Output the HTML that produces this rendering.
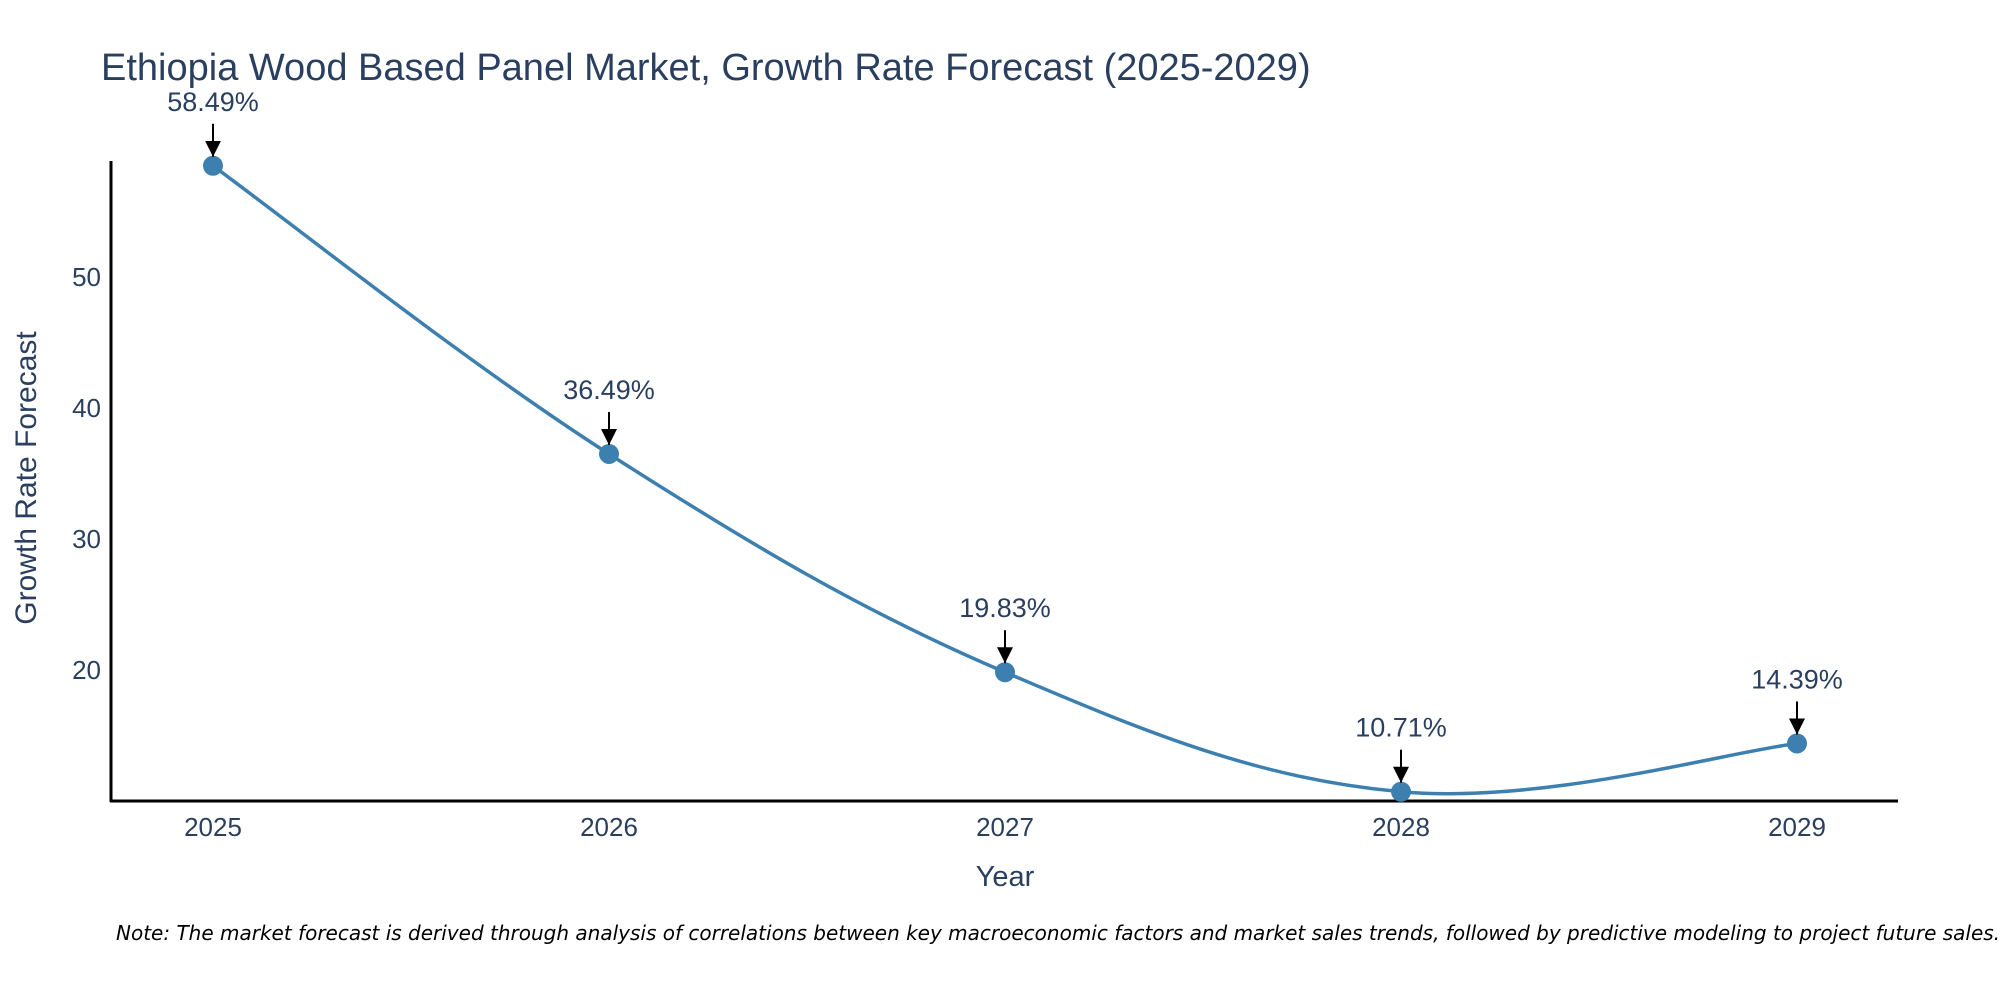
<!DOCTYPE html>
<html><head><meta charset="utf-8"><style>
body{margin:0;background:#fff;width:2000px;height:1000px;overflow:hidden}
svg text{font-family:"Liberation Sans",sans-serif;fill:#2a3f5f}
</style></head><body>
<svg id="chart" width="2000" height="1000" xmlns="http://www.w3.org/2000/svg">
<defs><marker id="ah2" markerWidth="16" markerHeight="16" refX="8" refY="16" orient="0" markerUnits="userSpaceOnUse" viewBox="0 0 16 16"><path d="M0,0 L16,0 L8,16 z" fill="#000"/></marker></defs>
<text x="101" y="80" font-size="38">Ethiopia Wood Based Panel Market, Growth Rate Forecast (2025-2029)</text>
<line x1="111" y1="161" x2="111" y2="802" stroke="#000" stroke-width="3"/>
<line x1="110" y1="801" x2="1898" y2="801" stroke="#000" stroke-width="3"/>
<g id="yticks"></g><g id="xticks"></g>
<text transform="translate(36,478) rotate(-90)" text-anchor="middle" font-size="30">Growth Rate Forecast</text>
<text x="1005" y="886" text-anchor="middle" font-size="29">Year</text>
<path id="line" fill="none" stroke="#3d80b0" stroke-width="3.5"/>
<g id="pts"></g><g id="ann"></g>
<text x="116" y="940" font-size="20" font-style="italic" style="font-family:'DejaVu Sans',sans-serif;fill:#000">Note: The market forecast is derived through analysis of correlations between key macroeconomic factors and market sales trends, followed by predictive modeling to project future sales.</text>
</svg>
<script>
const years=[2025,2026,2027,2028,2029];
const values=[58.49,36.49,19.83,10.71,14.39];
const labels=["58.49%","36.49%","19.83%","10.71%","14.39%"];
const yTicks=[20,30,40,50];
const NS="http://www.w3.org/2000/svg";
const xs=y=>213+(y-2025)*(1797-213)/4;
const ys=v=>277-(v-50)*13.1;
function mk(t,a,p){const e=document.createElementNS(NS,t);for(const k in a)e.setAttribute(k,a[k]);p.appendChild(e);return e;}
const yt=document.getElementById('yticks');
yTicks.forEach(v=>{const t=mk('text',{x:101,y:ys(v)+9,'text-anchor':'end','font-size':26},yt);t.textContent=v;

});
const xt=document.getElementById('xticks');
years.forEach(y=>{const t=mk('text',{x:xs(y),y:836,'text-anchor':'middle','font-size':26},xt);t.textContent=y;

});
const P=years.map((y,i)=>[xs(y),ys(values[i])]);
let d='M'+P[0][0]+','+P[0][1];
const s=0.18;
for(let i=0;i<P.length-1;i++){const p0=P[i-1]||P[i],p1=P[i],p2=P[i+1],p3=P[i+2]||P[i+1];
const c1=[p1[0]+(p2[0]-p0[0])*s,p1[1]+(p2[1]-p0[1])*s],c2=[p2[0]-(p3[0]-p1[0])*s,p2[1]-(p3[1]-p1[1])*s];
d+=` C${c1[0]},${c1[1]} ${c2[0]},${c2[1]} ${p2[0]},${p2[1]}`;}
document.getElementById('line').setAttribute('d',d);
const pg=document.getElementById('pts'),an=document.getElementById('ann');
P.forEach((p,i)=>{const c=mk('circle',{cx:p[0],cy:p[1],r:10,fill:'#3d80b0'},pg);


const l=mk('line',{x1:p[0],y1:p[1]-42,x2:p[0],y2:p[1]-9,stroke:'#000','stroke-width':2,'marker-end':'url(#ah2)'},an);


const t=mk('text',{x:p[0],y:p[1]-55,'text-anchor':'middle','font-size':27},an);t.textContent=labels[i];

});
</script>
</body></html>
